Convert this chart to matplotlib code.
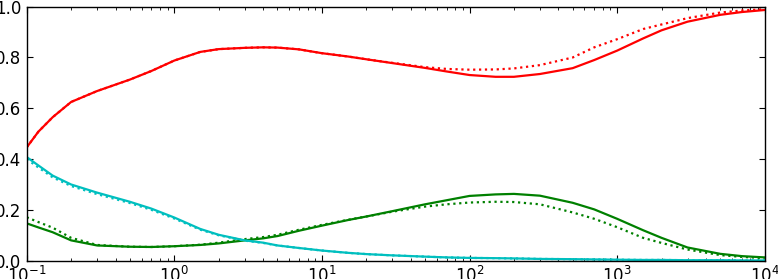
import matplotlib
matplotlib.use("Agg")
import matplotlib.pyplot as plt

x = [0.1, 0.12, 0.15, 0.2, 0.3, 0.5, 0.7, 1, 1.5, 2, 3, 4, 5, 7, 10, 15, 20, 30, 50, 70,
     100, 150, 200, 300, 500, 700, 1000, 1500, 2000, 3000, 5000, 7000, 10000]

red_solid = [0.446, 0.508, 0.565, 0.625, 0.668, 0.713, 0.747, 0.788, 0.822, 0.833, 0.838,
             0.840, 0.839, 0.832, 0.817, 0.804, 0.793, 0.778, 0.759, 0.745, 0.731, 0.724,
             0.724, 0.735, 0.758, 0.790, 0.827, 0.875, 0.907, 0.941, 0.968, 0.979, 0.987]
red_dotted = [0.446, 0.508, 0.565, 0.625, 0.668, 0.713, 0.747, 0.788, 0.822, 0.833, 0.838,
              0.840, 0.839, 0.832, 0.817, 0.804, 0.793, 0.779, 0.762, 0.755, 0.752, 0.753,
              0.757, 0.770, 0.800, 0.840, 0.872, 0.912, 0.930, 0.955, 0.977, 0.985, 0.990]
green_solid = [0.147, 0.131, 0.112, 0.080, 0.060, 0.055, 0.054, 0.057, 0.062, 0.068, 0.080,
               0.088, 0.097, 0.118, 0.138, 0.160, 0.174, 0.195, 0.222, 0.238, 0.255, 0.261,
               0.263, 0.256, 0.228, 0.202, 0.165, 0.120, 0.090, 0.052, 0.027, 0.018, 0.013]
green_dotted = [0.171, 0.152, 0.130, 0.090, 0.062, 0.055, 0.054, 0.057, 0.063, 0.071, 0.085,
                0.093, 0.102, 0.122, 0.141, 0.161, 0.174, 0.193, 0.213, 0.222, 0.229, 0.232,
                0.231, 0.222, 0.190, 0.165, 0.132, 0.090, 0.070, 0.044, 0.022, 0.015, 0.010]
cyan_solid = [0.408, 0.375, 0.335, 0.300, 0.268, 0.232, 0.205, 0.170, 0.125, 0.102, 0.080,
              0.071, 0.060, 0.050, 0.040, 0.031, 0.026, 0.021, 0.016, 0.013, 0.011, 0.010,
              0.009, 0.007, 0.006, 0.005, 0.004, 0.003, 0.003, 0.002, 0.002, 0.001, 0.001]
cyan_dotted = [0.400, 0.367, 0.328, 0.294, 0.262, 0.227, 0.200, 0.166, 0.122, 0.100, 0.079,
               0.070, 0.060, 0.050, 0.040, 0.031, 0.026, 0.021, 0.016, 0.013, 0.011, 0.010,
               0.009, 0.007, 0.006, 0.005, 0.004, 0.003, 0.003, 0.002, 0.002, 0.001, 0.001]

fig = plt.figure(figsize=(7.78, 2.79), dpi=100, facecolor="white")
ax = fig.add_axes([26.7/778, 1-260.7/279, (764.7-26.7)/778, (260.7-6.7)/279])

lw = 1.6
ax.plot(x, red_solid, color="#ff0000", lw=lw)
ax.plot(x, red_dotted, color="#ff0000", lw=lw, ls=":")
ax.plot(x, green_solid, color="#008000", lw=lw)
ax.plot(x, green_dotted, color="#008000", lw=lw, ls=":")
ax.plot(x, cyan_solid, color="#00bfbf", lw=lw)
ax.plot(x, cyan_dotted, color="#00bfbf", lw=lw, ls=":")

ax.set_xscale("log")
ax.set_xlim(0.1, 1e4)
ax.set_ylim(0, 1)
ax.set_yticks([0, 0.2, 0.4, 0.6, 0.8, 1.0])
ax.set_yticklabels(["0.0", "0.2", "0.4", "0.6", "0.8", "1.0"])
ax.tick_params(which="both", direction="in", top=True, right=True, labelsize=12)
ax.tick_params(which="major", length=4, width=0.8, pad=4)
ax.tick_params(which="minor", length=2, width=0.6)
for s in ax.spines.values():
    s.set_linewidth(1.0)

fig.savefig("out.png", dpi=100, facecolor="white")
